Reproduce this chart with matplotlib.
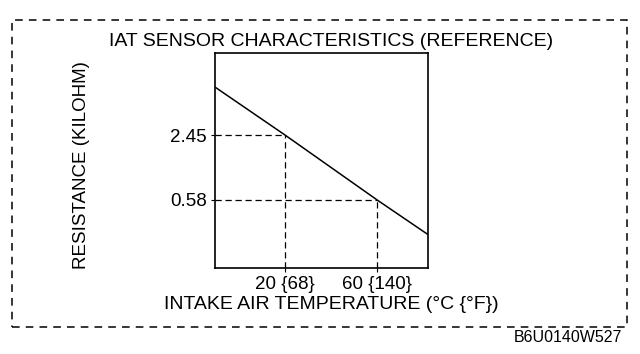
import matplotlib
matplotlib.use('Agg')
import matplotlib.pyplot as plt
from matplotlib.patches import Rectangle
from matplotlib.ticker import NullLocator

plt.rcParams['font.family'] = ['Liberation Sans', 'DejaVu Sans']

# curve (temp in degC, resistance in kilohm, log scale)
temp = [-10, 20, 60, 82]
resistance = [7.0, 2.45, 0.58, 0.27]

# reference points
ref_temp = [20, 60]
ref_res = [2.45, 0.58]
xtick_labels = ['20 {68}', '60 {140}']
ytick_labels = ['2.45', '0.58']

fig = plt.figure(figsize=(6.4, 3.54), dpi=100)
ax = fig.add_axes([0.336, 0.243, 0.333, 0.607])

ax.plot(temp, resistance, color='black', lw=1.1)
for t, r in zip(ref_temp, ref_res):
    ax.plot([-10.4, t], [r, r], color='black', lw=0.9, ls=(0, (5, 3)))
    ax.plot([t, t], [0.128, r], color='black', lw=0.9, ls=(0, (5, 3)))

ax.set_yscale('log')
ax.set_xlim(-10.4, 82.2)
ax.set_ylim(0.128, 15.1)
ax.yaxis.set_minor_locator(NullLocator())
ax.set_xticks(ref_temp)
ax.set_xticklabels(xtick_labels)
ax.set_yticks(ref_res)
ax.set_yticklabels(ytick_labels)
ax.tick_params(length=3, width=0.8, labelsize=13.5, pad=3)
for s in ax.spines.values():
    s.set_linewidth(1.2)

fig.text(0.517, 0.141, 'INTAKE AIR TEMPERATURE (°C {°F})', fontsize=14,
         ha='center', va='center')
fig.text(0.128, 0.534, 'RESISTANCE (KILOHM)', rotation=90, fontsize=13.5,
         ha='center', va='center')
fig.text(0.518, 0.884, 'IAT SENSOR CHARACTERISTICS (REFERENCE)', fontsize=14,
         ha='center', va='center')
fig.text(0.972, 0.048, 'B6U0140W527', fontsize=11.5, ha='right', va='center')

fig.patches.append(Rectangle((0.019, 0.076), 0.961, 0.867, transform=fig.transFigure,
                             fill=False, ec='black', lw=1.1, ls=(0, (5, 4))))

fig.savefig('out.png', dpi=100, facecolor='white')
